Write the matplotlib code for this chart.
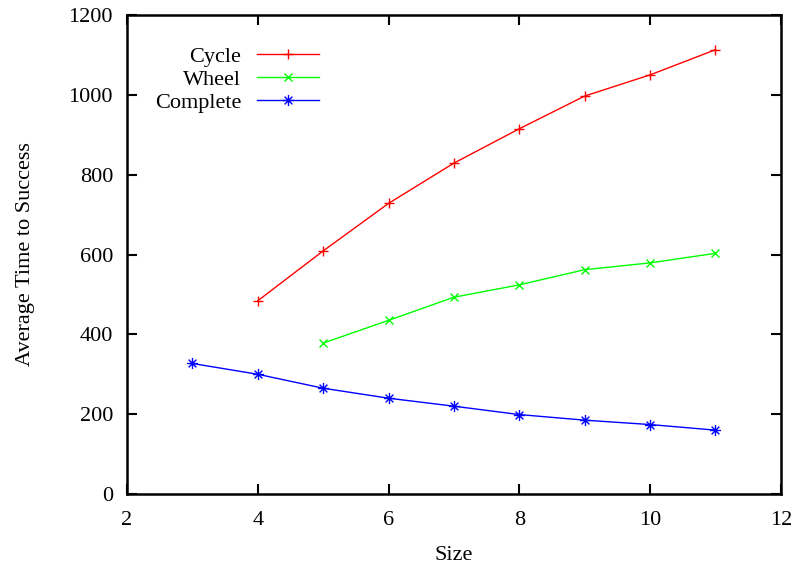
import numpy as np
import matplotlib.pyplot as plt
from matplotlib.path import Path

plt.rcParams['font.family'] = ['Liberation Serif', 'DejaVu Serif']
plt.rcParams['font.size'] = 16

# average time to success per graph size
cycle_size = [4, 5, 6, 7, 8, 9, 10, 11]
cycle_time = [484, 609, 728, 829, 915, 997, 1050, 1113]

wheel_size = [5, 6, 7, 8, 9, 10, 11]
wheel_time = [378, 435, 493, 524, 562, 579, 603]

complete_size = [3, 4, 5, 6, 7, 8, 9, 10, 11]
complete_time = [327, 300, 265, 240, 220, 199, 185, 174, 160]

x_ticks = [2, 4, 6, 8, 10, 12]
y_ticks = [0, 200, 400, 600, 800, 1000, 1200]

# gnuplot-style asterisk: plus and cross drawn together
star = Path(
    [(-1, 0), (1, 0), (0, -1), (0, 1),
     (-0.7, -0.7), (0.7, 0.7), (-0.7, 0.7), (0.7, -0.7)],
    [Path.MOVETO, Path.LINETO] * 4,
)

fig = plt.figure(figsize=(7.96, 5.64), dpi=100)
ax = fig.add_axes([0.1595, 0.1241, 0.8215, 0.8493])

ax.plot(cycle_size, cycle_time, color='#ff0000', lw=1.0, marker='+', ms=7, mew=1.0, label='Cycle')
ax.plot(wheel_size, wheel_time, color='#00ff00', lw=1.0, marker='x', ms=6, mew=1.0, label='Wheel')
ax.plot(complete_size, complete_time, color='#0000ff', lw=1.0, marker=star, ms=8, mew=1.0, label='Complete')

ax.set_xlim(2, 12)
ax.set_ylim(0, 1200)
ax.set_xticks(x_ticks)
ax.set_yticks(y_ticks)
ax.tick_params(direction='in', length=7, width=1.5, top=True, right=True, pad=10)
ax.tick_params(axis='x', pad=12)
for s in ax.spines.values():
    s.set_linewidth(1.8)

ax.set_xlabel('Size', labelpad=12)
ax.set_ylabel('Average Time to Success', labelpad=24)

ax.legend(loc='upper left', bbox_to_anchor=(0.043, 0.934), frameon=False, markerfirst=False,
          handlelength=2.8, handletextpad=0.7, labelspacing=0.1, borderpad=0.0,
          borderaxespad=0.0)

fig.savefig('out.png', dpi=100)
